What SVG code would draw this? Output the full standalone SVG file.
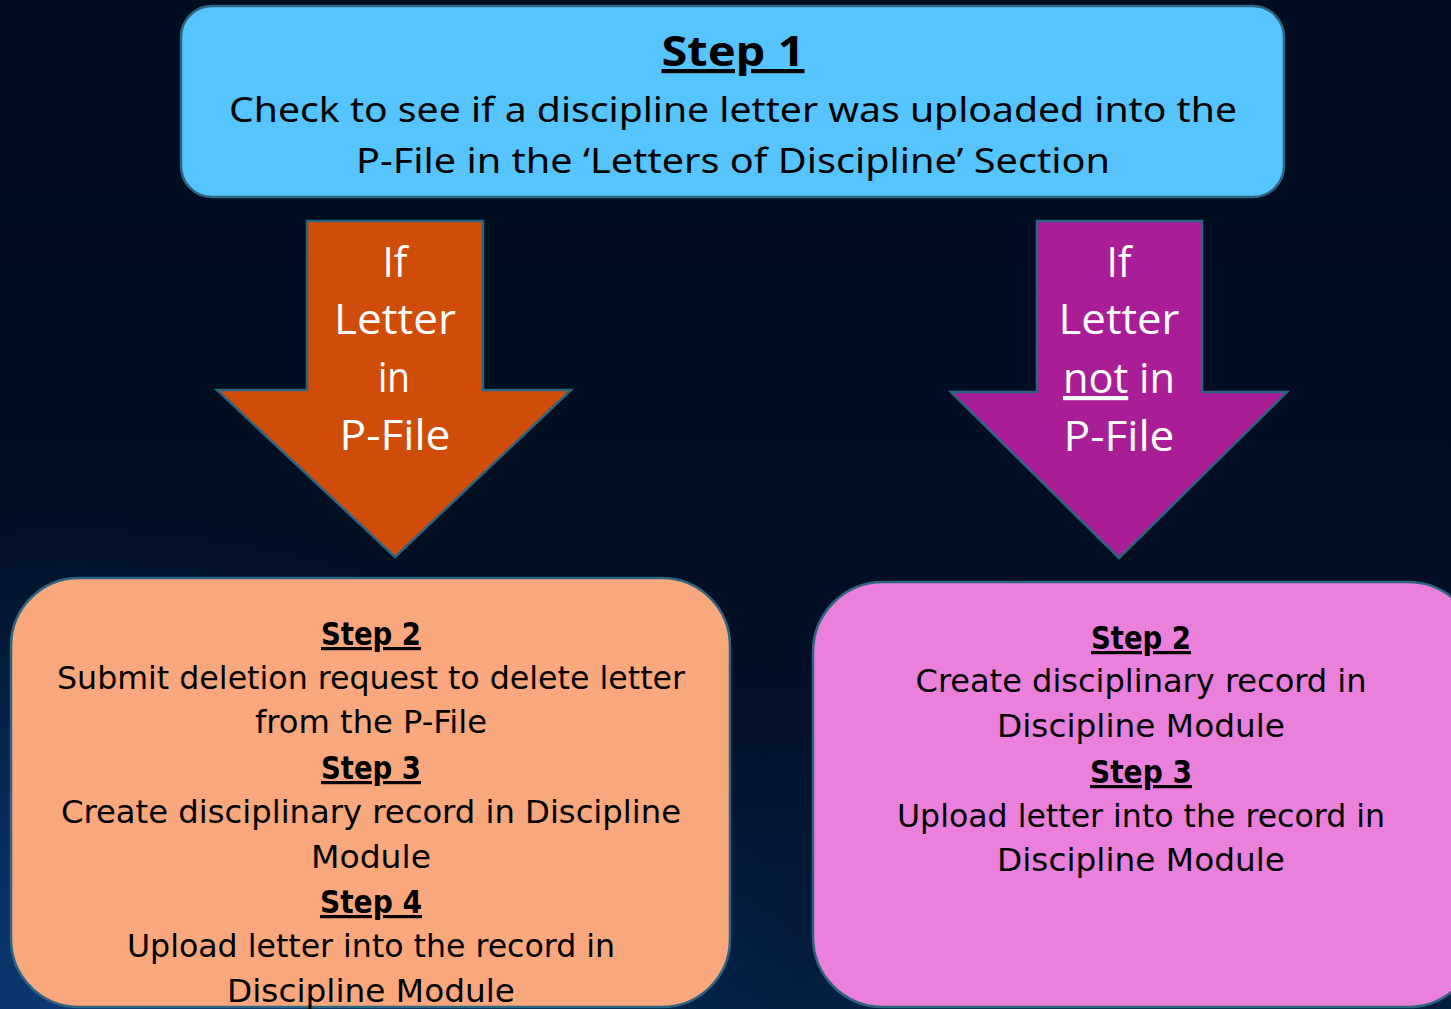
<svg xmlns="http://www.w3.org/2000/svg" width="1451" height="1009" viewBox="0 0 1451 1009">
  <defs>
    <linearGradient id="bg" x1="0" y1="0" x2="0" y2="1">
      <stop offset="0" stop-color="#000d1f"/>
      <stop offset="0.65" stop-color="#010f24"/>
      <stop offset="1" stop-color="#041f42"/>
    </linearGradient>
    <radialGradient id="glow" cx="0.05" cy="1" r="0.5">
      <stop offset="0" stop-color="#0d3f80" stop-opacity="0.8"/>
      <stop offset="1" stop-color="#0d3f80" stop-opacity="0"/>
    </radialGradient>
    <style>
      .box { stroke: #2d6580; stroke-width: 2.5; }
      .arrow { stroke: #2d6580; stroke-width: 2.5; stroke-linejoin: miter; }
      .top { font-family: "Noto Sans", "Open Sans", sans-serif; fill: #000; text-anchor: middle; }
      .arr { font-family: "Open Sans", "Lato", sans-serif; fill: #fff; font-size: 42px; text-anchor: middle; }
      .body { font-family: "DejaVu Sans Condensed", "DejaVu Sans", sans-serif; font-stretch: condensed; fill: #000; font-size: 32px; text-anchor: middle; }
      .step { font-weight: bold; text-decoration: underline; }
    </style>
  </defs>
  <rect width="1451" height="1009" fill="url(#bg)"/>
  <rect width="1451" height="1009" fill="url(#glow)"/>

  <g id="step1">
    <rect class="box" x="181" y="6" width="1103" height="191" rx="31" fill="#56c4fe"/>
    <text class="top step" x="733" y="66" font-size="42" textLength="143" lengthAdjust="spacingAndGlyphs">Step 1</text>
    <text class="top" x="733" y="122" font-size="35" textLength="1008" lengthAdjust="spacingAndGlyphs">Check to see if a discipline letter was uploaded into the</text>
    <text class="top" x="733" y="173" font-size="35" textLength="754" lengthAdjust="spacingAndGlyphs">P-File in the ‘Letters of Discipline’ Section</text>
  </g>

  <g id="connectors">
    <g id="arrow-in">
      <polygon class="arrow" fill="#cf4d08" points="307,221 483,221 483,390 571,390 395,557 217,390 307,390"/>
      <text class="arr" x="395" y="277" textLength="25" lengthAdjust="spacingAndGlyphs">If</text>
      <text class="arr" x="395" y="334" textLength="122" lengthAdjust="spacingAndGlyphs">Letter</text>
      <text class="arr" x="394" y="392" textLength="32" lengthAdjust="spacingAndGlyphs">in</text>
      <text class="arr" x="395" y="450" textLength="111" lengthAdjust="spacingAndGlyphs">P-File</text>
    </g>
    <g id="arrow-not-in">
      <polygon class="arrow" fill="#a91e96" points="1037,221 1202,221 1202,392 1287,392 1119,558 951,392 1037,392"/>
      <text class="arr" x="1119" y="277" textLength="25" lengthAdjust="spacingAndGlyphs">If</text>
      <text class="arr" x="1119" y="334" textLength="121" lengthAdjust="spacingAndGlyphs">Letter</text>
      <text class="arr" x="1119" y="393" textLength="112" lengthAdjust="spacingAndGlyphs"><tspan text-decoration="underline">not</tspan> in</text>
      <text class="arr" x="1119" y="451" textLength="111" lengthAdjust="spacingAndGlyphs">P-File</text>
    </g>
  </g>

  <g id="left-steps">
    <rect class="box" x="11" y="578" width="719" height="429" rx="68" fill="#f9a77c"/>
    <text class="body step" x="371" y="645" textLength="100" lengthAdjust="spacingAndGlyphs">Step 2</text>
    <text class="body" x="371" y="689" textLength="628" lengthAdjust="spacingAndGlyphs">Submit deletion request to delete letter</text>
    <text class="body" x="371" y="733" textLength="232" lengthAdjust="spacingAndGlyphs">from the P-File</text>
    <text class="body step" x="371" y="779" textLength="100" lengthAdjust="spacingAndGlyphs">Step 3</text>
    <text class="body" x="371" y="823" textLength="620" lengthAdjust="spacingAndGlyphs">Create disciplinary record in Discipline</text>
    <text class="body" x="371" y="868" textLength="120" lengthAdjust="spacingAndGlyphs">Module</text>
    <text class="body step" x="371" y="913" textLength="102" lengthAdjust="spacingAndGlyphs">Step 4</text>
    <text class="body" x="371" y="957" textLength="488" lengthAdjust="spacingAndGlyphs">Upload letter into the record in</text>
    <text class="body" x="371" y="1002" textLength="288" lengthAdjust="spacingAndGlyphs">Discipline Module</text>
  </g>

  <g id="right-steps">
    <rect class="box" x="813" y="582" width="665" height="425" rx="70" fill="#ea80db"/>
    <text class="body step" x="1141" y="649" textLength="100" lengthAdjust="spacingAndGlyphs">Step 2</text>
    <text class="body" x="1141" y="692" textLength="451" lengthAdjust="spacingAndGlyphs">Create disciplinary record in</text>
    <text class="body" x="1141" y="737" textLength="288" lengthAdjust="spacingAndGlyphs">Discipline Module</text>
    <text class="body step" x="1141" y="783" textLength="102" lengthAdjust="spacingAndGlyphs">Step 3</text>
    <text class="body" x="1141" y="827" textLength="488" lengthAdjust="spacingAndGlyphs">Upload letter into the record in</text>
    <text class="body" x="1141" y="871" textLength="288" lengthAdjust="spacingAndGlyphs">Discipline Module</text>
  </g>
</svg>
